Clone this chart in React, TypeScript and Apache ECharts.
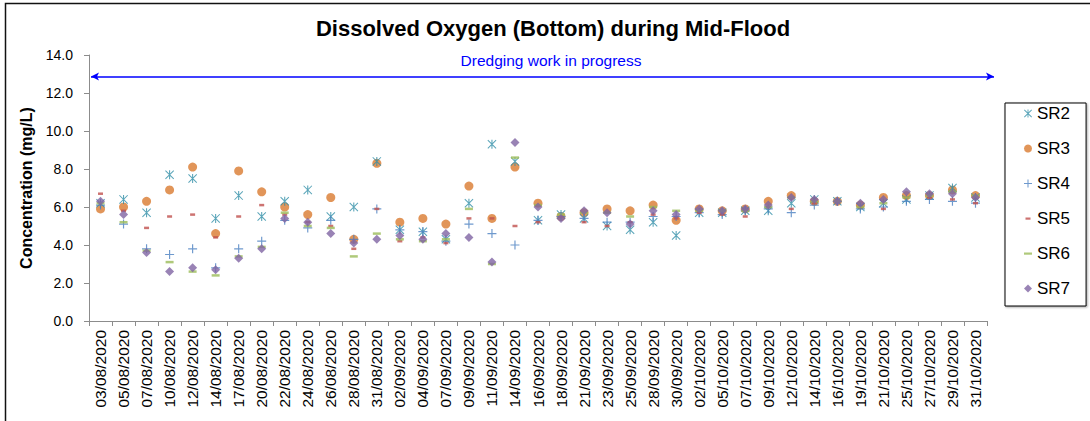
import { useEffect, useRef } from "react";
import * as echarts from "echarts";

const dates = [
  "03/08/2020", "05/08/2020", "07/08/2020", "10/08/2020", "12/08/2020", "14/08/2020",
  "17/08/2020", "20/08/2020", "22/08/2020", "24/08/2020", "26/08/2020", "28/08/2020",
  "31/08/2020", "02/09/2020", "04/09/2020", "07/09/2020", "09/09/2020", "11/09/2020",
  "14/09/2020", "16/09/2020", "18/09/2020", "21/09/2020", "23/09/2020", "25/09/2020",
  "28/09/2020", "30/09/2020", "02/10/2020", "05/10/2020", "07/10/2020", "09/10/2020",
  "12/10/2020", "14/10/2020", "16/10/2020", "19/10/2020", "21/10/2020", "25/10/2020",
  "27/10/2020", "29/10/2020", "31/10/2020",
];

const sr2 = [6.2, 6.4, 5.7, 7.7, 7.5, 5.4, 6.6, 5.5, 6.3, 6.9, 5.5, 6.0, 8.4, 4.8, 4.7, 4.3, 6.2, 9.3, 8.4, 5.3, 5.6, 5.4, 5.0, 4.8, 5.2, 4.5, 5.7, 5.7, 5.8, 5.8, 6.2, 6.4, 6.3, 6.0, 6.2, 6.4, 6.6, 7.0, 6.5];
const sr3 = [5.9, 6.0, 6.3, 6.9, 8.1, 4.6, 7.9, 6.8, 6.0, 5.6, 6.5, 4.3, 8.3, 5.2, 5.4, 5.1, 7.1, 5.4, 8.1, 6.2, 5.5, 5.7, 5.9, 5.8, 6.1, 5.3, 5.9, 5.8, 5.9, 6.3, 6.6, 6.3, 6.3, 6.1, 6.5, 6.6, 6.6, 6.9, 6.6];
const sr4 = [6.1, 5.1, 3.8, 3.5, 3.8, 2.8, 3.8, 4.2, 5.3, 4.9, 5.3, 4.3, 5.9, 4.8, 4.7, 4.2, 5.1, 4.6, 4.0, 5.3, 5.5, 5.4, 5.2, 5.2, 5.5, 5.5, 5.7, 5.6, 5.8, 5.9, 5.7, 6.1, 6.3, 5.9, 6.0, 6.3, 6.4, 6.3, 6.2];
const sr5 = [6.7, 5.8, 4.9, 5.5, 5.6, 4.4, 5.5, 6.1, 5.6, 5.2, 5.0, 3.8, 5.9, 4.2, 4.4, 4.1, 5.4, 5.4, 5.0, 5.2, 5.5, 5.2, 5.0, 5.2, 5.6, 5.4, 5.7, 5.6, 5.5, 6.0, 5.9, 6.2, 6.3, 6.0, 5.9, 6.5, 6.5, 6.4, 6.2];
const sr6 = [6.2, 5.2, 3.7, 3.1, 2.6, 2.4, 3.4, 3.9, 5.7, 5.0, 4.9, 3.4, 4.6, 4.3, 4.2, 4.3, 5.9, 3.0, 8.6, 6.1, 5.6, 5.7, 5.7, 5.5, 6.0, 5.8, 5.8, 5.8, 5.8, 6.0, 6.5, 6.3, 6.3, 6.0, 6.2, 6.5, 6.6, 6.8, 6.6];
const sr7 = [6.3, 5.6, 3.6, 2.6, 2.8, 2.7, 3.3, 3.8, 5.4, 5.2, 4.6, 4.1, 4.3, 4.5, 4.3, 4.6, 4.4, 3.1, 9.4, 6.0, 5.4, 5.8, 5.7, 5.1, 5.8, 5.6, 5.9, 5.8, 5.9, 6.1, 6.5, 6.4, 6.3, 6.2, 6.4, 6.8, 6.7, 6.7, 6.5];

const seriesNames = ["SR2", "SR3", "SR4", "SR5", "SR6", "SR7"];

const FONT = "'Liberation Sans', Arial, sans-serif";

const STAR = "path://M0,0.8L0.8,0L10,9.2L9.2,10ZM9.2,0L10,0.8L0.8,10L0,9.2ZM4.4,0H5.6V10H4.4Z";
const PLUS = "path://M4.35,0H5.65V10H4.35ZM0,4.35H10V5.65H0Z";

export default function App() {
  const ref = useRef<HTMLDivElement>(null);

  useEffect(() => {
    const chart = echarts.init(ref.current!, null, { renderer: "svg" });
    const base = {
      type: "scatter",
      silent: true,
      emphasis: { disabled: true },
    };
    chart.setOption({
      animation: false,
      textStyle: { fontFamily: FONT },
      title: [
        {
          text: "Dissolved Oxygen (Bottom) during Mid-Flood",
          left: 553,
          top: 17,
          textAlign: "center",
          padding: 0,
          textStyle: { fontFamily: FONT, fontSize: 22, fontWeight: "bold", color: "#000" },
        },
        {
          text: "Dredging work in progress",
          left: 551,
          top: 52,
          textAlign: "center",
          padding: 0,
          textStyle: { fontFamily: FONT, fontSize: 15.5, fontWeight: "normal", color: "#0000FF" },
        },
      ],
      grid: { left: 89, right: 103, top: 55, bottom: 100, containLabel: false },
      legend: {
        orient: "vertical",
        left: 1005,
        top: 103,
        itemWidth: 8,
        itemHeight: 8,
        itemGap: 18,
        padding: [2, 16, 9, 19],
        borderColor: "#000",
        borderWidth: 1,
        backgroundColor: "#fff",
        shadowColor: "rgba(0,0,0,0.35)",
        shadowBlur: 2,
        shadowOffsetX: 1,
        shadowOffsetY: 1,
        selectedMode: false,
        textStyle: { fontFamily: FONT, fontSize: 17, color: "#000", lineHeight: 17 },
        data: [
          { name: "SR2", icon: STAR },
          { name: "SR3", icon: "circle" },
          { name: "SR4", icon: PLUS },
          { name: "SR5", icon: "path://M0,0M8,8M1.5,3H6.5V5.2H1.5Z" },
          { name: "SR6", icon: "path://M0,0M8,8M0,3H8V5.2H0Z" },
          { name: "SR7", icon: "diamond" },
        ],
      },
      xAxis: {
        type: "category",
        data: dates,
        boundaryGap: true,
        axisLine: { show: true, lineStyle: { color: "#8c8c8c", width: 1 } },
        axisTick: { show: true, inside: false, length: 5, alignWithLabel: false, lineStyle: { color: "#8c8c8c" } },
        axisLabel: { interval: 0, rotate: 90, margin: 9, fontSize: 15.5, color: "#000", fontFamily: FONT },
        splitLine: { show: false },
      },
      yAxis: {
        type: "value",
        min: 0,
        max: 14,
        interval: 2,
        name: "Concentration (mg/L)",
        nameLocation: "middle",
        nameRotate: 90,
        nameGap: 53,
        nameTextStyle: { fontFamily: FONT, fontSize: 16, fontWeight: "bold", color: "#000" },
        axisLine: { show: true, lineStyle: { color: "#8c8c8c", width: 1 } },
        axisTick: { show: true, inside: false, length: 5, lineStyle: { color: "#8c8c8c" } },
        axisLabel: { margin: 16, fontSize: 14, color: "#000", fontFamily: FONT, formatter: (v: number) => v.toFixed(1) },
        splitLine: { show: false },
      },
      graphic: [
        {
          type: "rect",
          silent: true,
          shape: { x: 5.5, y: 3.5, width: 1100, height: 440 },
          style: { fill: "none", stroke: "#111", lineWidth: 1.5 },
        },
      ],
      series: [
        {
          ...base,
          name: seriesNames[0],
          data: sr2,
          symbol: STAR,
          symbolSize: 9,
          itemStyle: { color: "#318EA8" },
          z: 2,
          markLine: {
            silent: true,
            symbol: ["arrow", "arrow"],
            symbolSize: [6, 8],
            label: { show: false },
            lineStyle: { color: "#0000FF", width: 1.5, type: "solid" },
            emphasis: { disabled: true },
            data: [[{ x: 91, y: 76.5 }, { x: 994, y: 76.5 }]],
          },
        },
        {
          ...base,
          name: seriesNames[1],
          data: sr3,
          symbol: "circle",
          symbolSize: 9,
          itemStyle: { color: "#D97A30" },
          z: 1,
        },
        {
          ...base,
          name: seriesNames[2],
          data: sr4,
          symbol: PLUS,
          symbolSize: 9,
          itemStyle: { color: "#4A7FC1" },
          z: 3,
        },
        {
          ...base,
          name: seriesNames[3],
          data: sr5,
          symbol: "rect",
          symbolSize: [5, 2.5],
          itemStyle: { color: "#C0504D" },
          z: 4,
        },
        {
          ...base,
          name: seriesNames[4],
          data: sr6,
          symbol: "rect",
          symbolSize: [8, 2.5],
          itemStyle: { color: "#9BBB59" },
          z: 5,
        },
        {
          ...base,
          name: seriesNames[5],
          data: sr7,
          symbol: "diamond",
          symbolSize: 9,
          itemStyle: { color: "#8064A2" },
          z: 6,
        },
      ],
    });
    return () => chart.dispose();
  }, []);

  return (
    <div
      ref={ref}
      style={{ position: "absolute", left: 0, top: 0, width: 1090, height: 421 }}
    />
  );
}
